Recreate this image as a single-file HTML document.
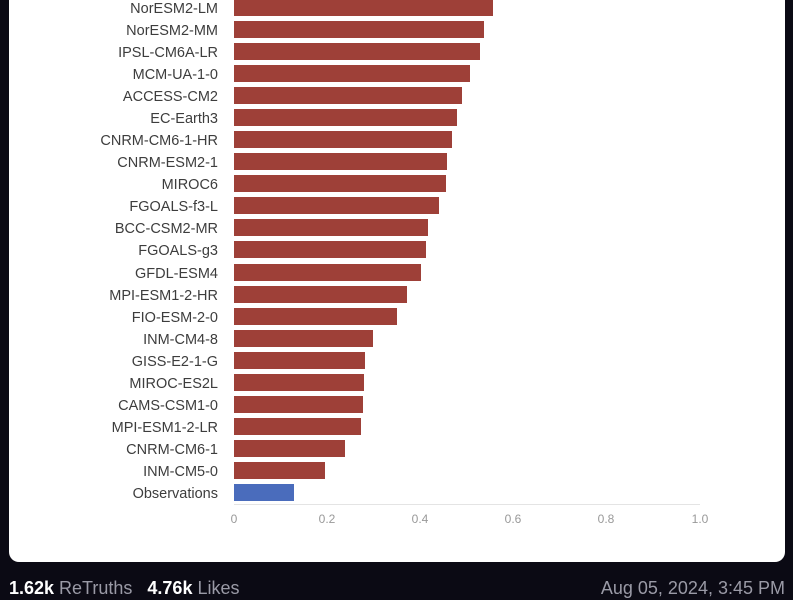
<!DOCTYPE html>
<html><head><style>
body{margin:0;width:793px;height:600px;background:#0b0a14;position:relative;overflow:hidden;font-family:"Liberation Sans",sans-serif}
.card{position:absolute;left:9px;top:-20px;width:776px;height:582px;background:#fff;border-radius:10px}
.lbl{position:absolute;right:575px;font-size:14.5px;color:#3d3d3d;white-space:nowrap;line-height:17px}
.bar{position:absolute;left:234px;height:17px;background:#9e4038}
.tick{position:absolute;top:512px;font-size:12px;color:#999;transform:translateX(-50%)}
.foot{position:absolute;top:578px;font-size:18px;color:#9a9aa6}
.foot b{color:#fff}
</style></head><body>
<div class="card"></div>
<div id="c"></div>
<div style="position:absolute;left:234px;top:504px;width:466px;height:1px;background:#e4e4e4"></div>
<div class="tick" style="left:234px">0</div>
<div class="tick" style="left:327px">0.2</div>
<div class="tick" style="left:420px">0.4</div>
<div class="tick" style="left:513px">0.6</div>
<div class="tick" style="left:606px">0.8</div>
<div class="tick" style="left:700px">1.0</div>
<div class="foot" style="left:9px"><b>1.62k</b> ReTruths &nbsp;&nbsp;<b>4.76k</b> Likes</div>
<div class="foot" style="right:8px">Aug 05, 2024, 3:45 PM</div>
<script>
var d=[["NorESM2-LM",493],["NorESM2-MM",484],["IPSL-CM6A-LR",480],["MCM-UA-1-0",470],["ACCESS-CM2",462],["EC-Earth3",457],["CNRM-CM6-1-HR",452],["CNRM-ESM2-1",447],["MIROC6",446],["FGOALS-f3-L",439],["BCC-CSM2-MR",428],["FGOALS-g3",426],["GFDL-ESM4",421],["MPI-ESM1-2-HR",407],["FIO-ESM-2-0",397],["INM-CM4-8",373],["GISS-E2-1-G",365],["MIROC-ES2L",364],["CAMS-CSM1-0",363],["MPI-ESM1-2-LR",361],["CNRM-CM6-1",345],["INM-CM5-0",325],["Observations",294]];
var h="";d.forEach(function(r,i){var y=7+i*22.09-8.5;h+='<div class="lbl" style="top:'+(y+2)+'px">'+r[0]+'</div><div class="bar" style="top:'+y+'px;width:'+(r[1]-234)+'px'+(i==22?';background:#4a6cbc':'')+'"></div>';});
document.getElementById("c").innerHTML=h;
</script>
</body></html>
